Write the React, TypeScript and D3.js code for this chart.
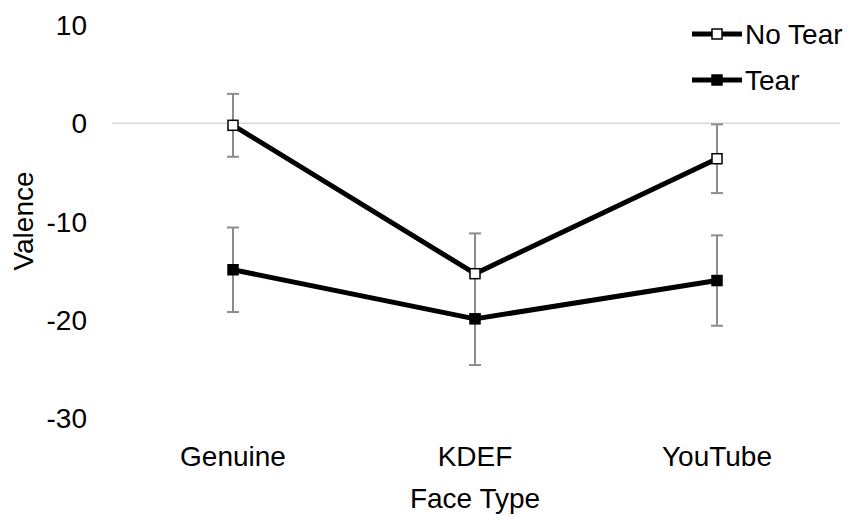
import React from "react";
import * as d3 from "d3";

const categories = ["Genuine", "KDEF", "YouTube"];
const noTearMeans = [-0.2, -15.3, -3.6];
const noTearErrors = [3.2, 4.1, 3.5];
const tearMeans = [-14.9, -19.9, -16.0];
const tearErrors = [4.3, 4.7, 4.6];
const yTicks = [10, 0, -10, -20, -30];

const W = 853;
const H = 516;
const FONT = "'Liberation Sans', Arial, Helvetica, sans-serif";

type Series = { name: string; means: number[]; errors: number[]; fill: string };

const series: Series[] = [
  { name: "No Tear", means: noTearMeans, errors: noTearErrors, fill: "#ffffff" },
  { name: "Tear", means: tearMeans, errors: tearErrors, fill: "#000000" },
];

export default function App() {
  const x = d3.scaleBand<string>().domain(categories).range([112, 838]);
  const cx = (c: string) => (x(c) ?? 0) + x.bandwidth() / 2;
  const y = d3.scaleLinear().domain([-30, 10]).range([418.1, 25.1]);

  const line = d3
    .line<number>()
    .x((_, i) => cx(categories[i]))
    .y((v) => y(v));

  const markerSize = 10;
  const capHalf = 6;

  return (
    <svg
      width={W}
      height={H}
      style={{ position: "absolute", left: 0, top: 0, background: "#fff" }}
      fontFamily={FONT}
    >
      {/* zero reference line */}
      <line x1={112} x2={840} y1={y(0)} y2={y(0)} stroke="#d9d9d9" strokeWidth={1.5} />

      {/* y tick labels */}
      {yTicks.map((t) => (
        <text key={t} x={87} y={y(t)} dy="0.36em" textAnchor="end" fontSize={28} fill="#000">
          {t}
        </text>
      ))}

      {/* category labels */}
      {categories.map((c) => (
        <text key={c} x={cx(c)} y={466} textAnchor="middle" fontSize={28} fill="#000">
          {c}
        </text>
      ))}

      {/* axis titles */}
      <text x={475} y={508} textAnchor="middle" fontSize={28} fill="#000">
        Face Type
      </text>
      <text
        transform={`translate(33,221) rotate(-90)`}
        textAnchor="middle"
        fontSize={28}
        fill="#000"
      >
        Valence
      </text>

      {/* error bars */}
      {series.map((s) =>
        categories.map((c, i) => {
          const px = cx(c);
          const top = y(s.means[i] + s.errors[i]);
          const bot = y(s.means[i] - s.errors[i]);
          return (
            <g key={s.name + c} stroke="#8c8c8c" strokeWidth={2}>
              <line x1={px} x2={px} y1={top} y2={bot} />
              <line x1={px - capHalf} x2={px + capHalf} y1={top} y2={top} />
              <line x1={px - capHalf} x2={px + capHalf} y1={bot} y2={bot} />
            </g>
          );
        })
      )}

      {/* series lines and markers */}
      {series.map((s) => (
        <g key={s.name}>
          <path d={line(s.means) ?? ""} fill="none" stroke="#000" strokeWidth={5} strokeLinejoin="round" />
          {s.means.map((v, i) => (
            <rect
              key={i}
              x={cx(categories[i]) - markerSize / 2}
              y={y(v) - markerSize / 2}
              width={markerSize}
              height={markerSize}
              fill={s.fill}
              stroke="#000"
              strokeWidth={1.5}
            />
          ))}
        </g>
      ))}

      {/* legend */}
      {series.map((s, i) => {
        const ly = 34 + i * 46;
        return (
          <g key={"leg" + s.name}>
            <line x1={692} x2={742} y1={ly} y2={ly} stroke="#000" strokeWidth={5} />
            <rect
              x={717 - markerSize / 2}
              y={ly - markerSize / 2}
              width={markerSize}
              height={markerSize}
              fill={s.fill}
              stroke="#000"
              strokeWidth={1.5}
            />
            <text x={745} y={ly} dy="0.36em" fontSize={28} fill="#000">
              {s.name}
            </text>
          </g>
        );
      })}
    </svg>
  );
}
